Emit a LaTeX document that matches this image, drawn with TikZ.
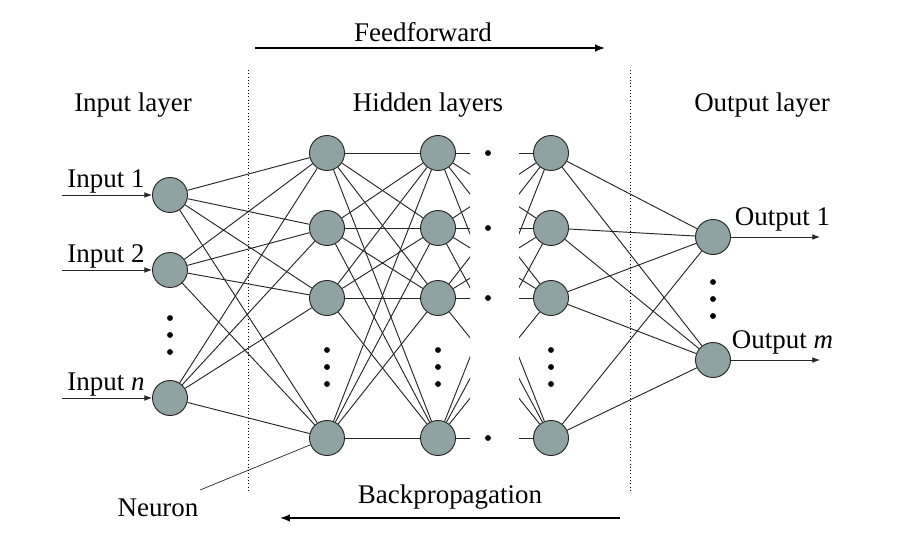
\documentclass[tikz,border=0pt]{standalone}
\usepackage{fontspec}
\setmainfont{Liberation Serif}
\usetikzlibrary{arrows.meta,calc}
\definecolor{nfill}{HTML}{8FA3A3}
\tikzset{
  neuron/.style={circle,draw=black!85,thick,fill=nfill,minimum size=1.05cm,inner sep=0pt},
  link/.style={draw=black!85,thick},
  lbl/.style={font=\fontsize{23}{27}\selectfont},
  dot/.style={circle,fill=black,inner sep=0pt,minimum size=5pt}
}
\begin{document}
\begin{tikzpicture}[x=0.03cm,y=-0.03cm]
	\useasboundingbox (0,0) rectangle (902,532);
	% input layer
	\foreach \n/\y in {1/195,2/270,3/398}
		\node[neuron] (i\n) at (170,\y) {};
	% hidden layers
	\foreach \n/\y in {1/153,2/228,3/298,4/438}
	{
		\node[neuron] (a\n) at (327,\y) {};
		\node[neuron] (b\n) at (438,\y) {};
		\node[neuron] (c\n) at (551,\y) {};
		\node[dot] (d\n) at (488,\y) {};
	}
	% output layer
	\node[neuron] (o1) at (713,237) {};
	\node[neuron] (o2) at (713,360) {};
	% connections
	\foreach \i in {1,2,3}
		\foreach \j in {1,2,3,4}
			\draw[link] (i\i) -- (a\j);
	\foreach \i in {1,2,3,4}
		\foreach \j in {1,2,3,4}
			\draw[link] (a\i) -- (b\j);
	\foreach \i in {1,2,3,4}
		\foreach \j in {1,2}
			\draw[link] (c\i) -- (o\j);
	\begin{scope}
		\clip (430,0) rectangle (470,532) (519,0) rectangle (560,532);
		\foreach \i in {1,2,3,4}
			\foreach \j in {1,2,3,4}
				\draw[link] (b\i) -- (c\j);
	\end{scope}
	% in and out arrows
	\foreach \n/\t in {1/Input 1,2/Input 2,3/Input \textit{n}}
	{
		\coordinate (s\n) at (62,0 |- i\n);
		\draw[link,-Latex] (s\n) -- (i\n);
		\node[lbl,anchor=south west,inner sep=1pt] at ($(s\n)+(4,0)$) {\t};
	}
	\foreach \n/\t in {1/Output 1,2/Output \textit{m}}
	{
		\coordinate (e\n) at (820,0 |- o\n);
		\draw[link,-Latex] (o\n) -- (e\n);
		\node[lbl,anchor=south] at ($(o\n)!0.5!(e\n)+(16,-2)$) {\t};
	}
	% vertical dots
	\foreach \y in {318,335,352}
		\node[dot] at (170,\y) {};
	\foreach \y in {350,367,384}
	{
		\node[dot] at (327,\y) {};
		\node[dot] at (438,\y) {};
		\node[dot] at (551,\y) {};
	}
	\foreach \y in {282,299,316}
		\node[dot] at (713,\y) {};
	% separators
	\draw[dotted,thick] (248,70) -- (248,490);
	\draw[dotted,thick] (630,70) -- (630,490);
	% titles
	\node[lbl] at (133,105) {Input layer};
	\node[lbl] at (428,105) {Hidden layers};
	\node[lbl] at (762,105) {Output layer};
	\node[lbl] (ff) at (423,32) {Feedforward};
	\draw[very thick,-Latex] (255,48) -- (605,48);
	\node[lbl] (bp) at (450,497) {Backpropagation};
	\draw[very thick,-Latex] (620,518) -- (280,518);
	\node[lbl] (nr) at (158,508) {Neuron};
	\draw[link,semithick] (200,490) -- (a4);
\end{tikzpicture}
\end{document}
